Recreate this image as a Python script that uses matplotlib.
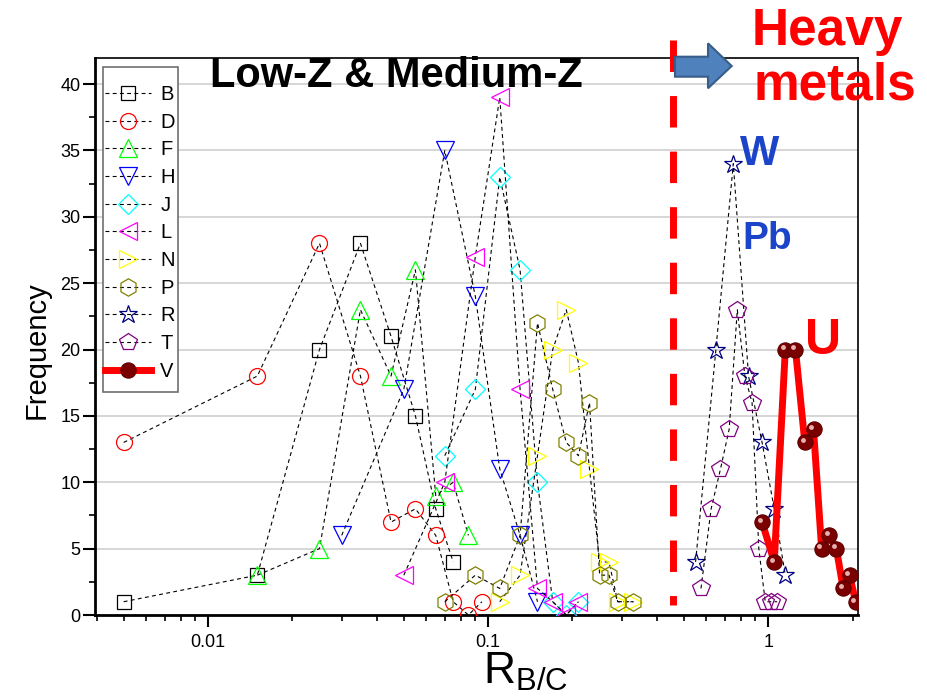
import numpy as np
import matplotlib.pyplot as plt
from matplotlib.patches import Polygon, Rectangle
from matplotlib.ticker import MultipleLocator, NullFormatter, LogLocator
from matplotlib.transforms import ScaledTranslation

plt.rcParams['font.family'] = ['Liberation Sans', 'DejaVu Sans']
plt.rcParams['mathtext.default'] = 'regular'

# R_B/C bin centres and frequencies
B_x = [0.005, 0.015, 0.025, 0.035, 0.045, 0.055, 0.065, 0.075]
B_y = [1, 3, 20, 28, 21, 15, 8, 4]
D_x = [0.005, 0.015, 0.025, 0.035, 0.045, 0.055, 0.065, 0.075, 0.085, 0.095]
D_y = [13, 18, 28, 18, 7, 8, 6, 1, 0, 1]
F_x = [0.015, 0.025, 0.035, 0.045, 0.055, 0.065, 0.075, 0.085]
F_y = [3, 5, 23, 18, 26, 9, 10, 6]
H_x = [0.03, 0.05, 0.07, 0.09, 0.11, 0.13, 0.15]
H_y = [6, 17, 35, 24, 11, 6, 1]
J_x = [0.07, 0.09, 0.11, 0.13, 0.15, 0.17, 0.19, 0.21]
J_y = [12, 17, 33, 26, 10, 1, 0, 1]
L_x = [0.05, 0.07, 0.09, 0.11, 0.13, 0.15, 0.17, 0.19, 0.21]
L_y = [3, 10, 27, 39, 17, 2, 1, 0, 1]
N_x = [0.11, 0.13, 0.15, 0.17, 0.19, 0.21, 0.23, 0.25, 0.27, 0.29, 0.33]
N_y = [1, 3, 12, 20, 23, 19, 11, 4, 4, 1, 1]
P_x = [0.07, 0.09, 0.11, 0.13, 0.15, 0.17, 0.19, 0.21, 0.23, 0.25, 0.27, 0.29, 0.33]
P_y = [1, 3, 2, 6, 22, 17, 13, 12, 16, 3, 3, 1, 1]
R_x = [0.55, 0.65, 0.75, 0.85, 0.95, 1.05, 1.15]
R_y = [4, 20, 34, 18, 13, 8, 3]
T_x = [0.575, 0.625, 0.675, 0.725, 0.775, 0.825, 0.875, 0.925, 0.975, 1.025, 1.075]
T_y = [2, 8, 11, 14, 23, 18, 16, 5, 1, 1, 1]
V_x = [0.95, 1.05, 1.15, 1.25, 1.35, 1.45, 1.55, 1.65, 1.75, 1.85, 1.95, 2.05]
V_y = [7, 4, 20, 20, 13, 14, 5, 6, 5, 2, 3, 1]

THRESHOLD = 0.455   # boundary between light and heavy elements

series = [
    ('B', B_x, B_y, 's', 'black', 9.5),
    ('D', D_x, D_y, 'o', 'red', 11.5),
    ('F', F_x, F_y, '^', '#00ff00', 12.5),
    ('H', H_x, H_y, 'v', 'blue', 12.5),
    ('J', J_x, J_y, 'D', 'cyan', 10),
    ('L', L_x, L_y, '<', 'magenta', 12.5),
    ('N', N_x, N_y, '>', 'yellow', 12.5),
    ('P', P_x, P_y, 'h', '#808000', 12.5),
    ('R', R_x, R_y, '*', '#000080', 13.5),
    ('T', T_x, T_y, 'p', '#800080', 13),
]

W, H = 927, 697
fig = plt.figure(figsize=(W / 100, H / 100), dpi=100)
ax = fig.add_axes([95 / W, 1 - 615 / H, (858 - 95) / W, (615 - 57.5) / H])


def fpx(x, y):
    return x / W, 1 - y / H


def apx(x, y):
    # pixel position -> axes fraction
    return (x - 95) / (858 - 95), (615 - y) / (615 - 57.5)


handles = []
for name, xs, ys, mk, col, ms in series:
    ln, = ax.plot(xs, ys, color='black', lw=0.8, dashes=(3.5, 3),
                  marker=mk, ms=ms, mfc='none', mec=col, mew=0.9, zorder=3)
    handles.append(ln)

# uranium: thick red line with shaded spheres
vln, = ax.plot(V_x, V_y, color='red', lw=5, marker='o', ms=11,
               mfc='#7a0000', mec='#5c0000', mew=0.8, zorder=4)
shine = ax.transData + ScaledTranslation(-1.6 / 72, 1.6 / 72, fig.dpi_scale_trans)
ax.plot(V_x, V_y, ls='none', marker='o', ms=3.5, mfc='#f2c4c4', mec='none',
        alpha=0.9, transform=shine, zorder=5)
handles.append(vln)

# dashed threshold line (runs above the frame)
ax.plot([THRESHOLD, THRESHOLD], [43.33, 0.75], color='red', lw=5,
        dashes=(4.53, 3.47), dash_capstyle='butt', clip_on=False, zorder=6)

ax.set_xscale('log')
ax.set_xlim(0.00395, 2.09)
ax.set_ylim(0, 42)
ax.set_xticks([0.01, 0.1, 1])
ax.set_xticklabels(['0.01', '0.1', '1'])
ax.xaxis.set_minor_locator(LogLocator(base=10, subs=np.arange(2, 10)))
ax.xaxis.set_minor_formatter(NullFormatter())
ax.set_yticks(range(0, 45, 5))
ax.yaxis.set_minor_locator(MultipleLocator(2.5))

ax.tick_params(axis='both', which='major', direction='out', length=8.5, width=1.5)
ax.tick_params(axis='both', which='minor', direction='out', length=4.5, width=1.2)
ax.tick_params(axis='x', labelsize=13, pad=5)
ax.tick_params(axis='y', labelsize=13, pad=2)
ax.tick_params(top=False, right=False, which='both')

for side in ['left', 'bottom']:
    ax.spines[side].set_linewidth(2)
for side in ['top', 'right']:
    ax.spines[side].set_linewidth(1.2)

ax.yaxis.grid(True, color='#d0d0d0', lw=1.2)
ax.set_axisbelow(True)

ax.set_ylabel('Frequency', fontsize=21)
ax.yaxis.set_label_coords(-0.058, 0.475)
ax.set_xlabel('R$_{B/C}$', fontsize=32)
ax.xaxis.set_label_coords(0.565, -0.064)

# legend: frameless, with a separate box so the padding matches
leg = ax.legend(handles, [s[0] for s in series] + ['V'], loc='upper left',
                bbox_to_anchor=apx(105, 85), borderaxespad=0, borderpad=0,
                fontsize=14.5, handlelength=2.3, handletextpad=0.45,
                labelspacing=0.43, frameon=False)
leg.set_zorder(10)
x0, y1 = apx(103.3, 67.3)
x1, y0 = apx(177.7, 392.3)
ax.add_patch(Rectangle((x0, y0), x1 - x0, y1 - y0, transform=ax.transAxes,
                       facecolor='white', edgecolor='#707070', lw=1.2, zorder=9))

# annotations
ax.text(0.0469, 39.8, 'Low-Z & Medium-Z', fontsize=30, fontweight='bold',
        ha='center', va='baseline', zorder=8)
ax.text(0.934, 33.9, 'W', fontsize=30, fontweight='bold', color='#1c44c9',
        ha='center', va='baseline', zorder=8)
ax.text(0.993, 27.6, 'Pb', fontsize=28, fontweight='bold', color='#1c44c9',
        ha='center', va='baseline', zorder=8)
ax.text(1.573, 19.7, 'U', fontsize=36, fontweight='bold', color='red',
        ha='center', va='baseline', zorder=8)
fig.text(*fpx(827, 45), 'Heavy', fontsize=37, fontweight='bold', color='red',
         ha='center', va='baseline')
fig.text(*fpx(835, 100), 'metals', fontsize=37, fontweight='bold', color='red',
         ha='center', va='baseline')

arrow_px = [(675, 56.7), (708, 56.7), (708, 43.3), (731.7, 66), (708, 88.3),
            (708, 76.7), (675, 76.7)]
fig.patches.append(Polygon([fpx(x, y) for x, y in arrow_px], closed=True,
                           transform=fig.transFigure, facecolor='#4f81bd',
                           edgecolor='#385d8a', lw=1.5, zorder=7))

fig.savefig('out.png', dpi=100)
